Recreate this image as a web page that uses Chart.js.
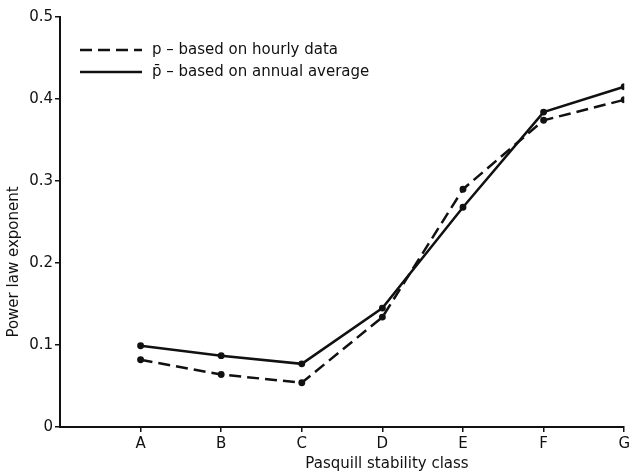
<!DOCTYPE html>
<html>
<head>
<meta charset="utf-8">
<script src="https://cdn.jsdelivr.net/npm/chart.js@4.4.1/dist/chart.umd.min.js"></script>
<style>
  html, body { margin: 0; padding: 0; background: #fff; }
  #wrap { width: 633px; height: 472px; }
</style>
</head>
<body>
<div id="wrap"><canvas id="myChart" width="633" height="472"></canvas></div>
<script>
// Pasquill stability classes, placed at x = 1..7
var classes = ['A', 'B', 'C', 'D', 'E', 'F', 'G'];
var hourlyValues = [0.082, 0.064, 0.054, 0.134, 0.290, 0.374, 0.399];   // p (dashed)
var annualValues = [0.099, 0.087, 0.077, 0.145, 0.268, 0.384, 0.415];   // p-bar (solid)
var yTicks = [0, 0.1, 0.2, 0.3, 0.4, 0.5];

var FONT = '"DejaVu Sans", Verdana, sans-serif';
var INK = '#111';

function toPoints(values) {
    return values.map(function (v, i) { return { x: i + 1, y: v }; });
}

// legend + axis titles drawn where the original has them
var annotations = {
    id: 'annotations',
    afterDraw: function (chart) {
        var ctx = chart.ctx;
        ctx.save();
        ctx.fillStyle = INK;
        ctx.strokeStyle = INK;
        ctx.font = '15px ' + FONT;
        ctx.textBaseline = 'middle';

        // legend, top-left of the plot
        var rows = [50, 72];
        chart.data.datasets.forEach(function (ds, i) {
            var y = rows[i];
            ctx.lineWidth = 2.5;
            ctx.setLineDash(ds.borderDash || []);
            ctx.beginPath();
            ctx.moveTo(80, y);
            ctx.lineTo(142, y);
            ctx.stroke();
            ctx.setLineDash([]);
            ctx.textAlign = 'left';
            ctx.fillText(ds.label, 152, y);
        });

        // x title
        ctx.textAlign = 'center';
        ctx.fillText('Pasquill stability class', 387, 464);

        // y title
        ctx.translate(14, 262);
        ctx.rotate(-Math.PI / 2);
        ctx.fillText('Power law exponent', 0, 0);
        ctx.restore();
    }
};

var ctx = document.getElementById('myChart').getContext('2d');
var myChart = new Chart(ctx, {
    type: 'line',
    data: {
        datasets: [
            {
                label: 'p \u2013 based on hourly data',
                data: toPoints(hourlyValues),
                borderColor: INK,
                backgroundColor: INK,
                borderWidth: 2.5,
                borderDash: [12, 6],
                pointRadius: 2.2,
                pointHoverRadius: 2.2,
                tension: 0
            },
            {
                label: 'p\u0304 \u2013 based on annual average',
                data: toPoints(annualValues),
                borderColor: INK,
                backgroundColor: INK,
                borderWidth: 2.5,
                pointRadius: 2.2,
                pointHoverRadius: 2.2,
                tension: 0
            }
        ]
    },
    options: {
        responsive: false,
        animation: false,
        layout: { padding: { top: 17, right: 6, left: 0, bottom: 0 } },
        plugins: {
            legend: { display: false },
            tooltip: { enabled: false }
        },
        scales: {
            x: {
                type: 'linear',
                min: 0,
                max: 7,
                afterBuildTicks: function (scale) {
                    scale.ticks = classes.map(function (c, i) { return { value: i + 1 }; });
                },
                afterFit: function (scale) { scale.height = 45; },
                ticks: {
                    color: INK,
                    font: { family: FONT, size: 15 },
                    padding: 3,
                    maxRotation: 0,
                    callback: function (value) { return classes[value - 1] || ''; }
                },
                grid: { drawOnChartArea: false, drawTicks: true, tickLength: 5, color: INK, lineWidth: 1.5 },
                border: { color: INK, width: 2 }
            },
            y: {
                min: 0,
                max: 0.5,
                afterBuildTicks: function (scale) {
                    scale.ticks = yTicks.map(function (v) { return { value: v }; });
                },
                afterFit: function (scale) { scale.width = 60; },
                ticks: {
                    color: INK,
                    font: { family: FONT, size: 15 },
                    padding: 2,
                    callback: function (value) { return String(Math.round(value * 10) / 10); }
                },
                grid: { drawOnChartArea: false, drawTicks: true, tickLength: 5, color: INK, lineWidth: 1.5 },
                border: { color: INK, width: 2 }
            }
        }
    },
    plugins: [annotations]
});
</script>
</body>
</html>
